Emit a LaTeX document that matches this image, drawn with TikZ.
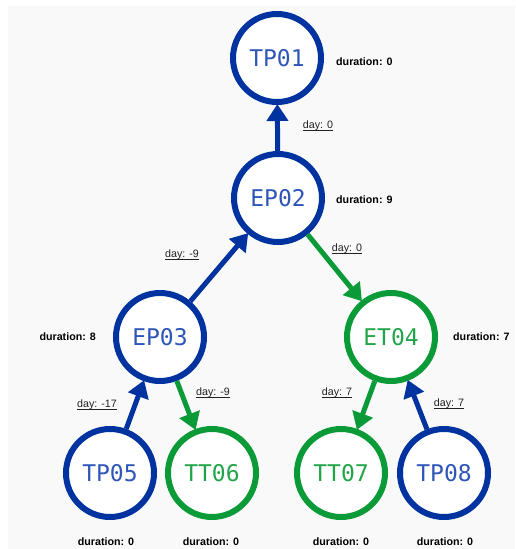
\documentclass[tikz,border=0pt]{standalone}
\usepackage{fontspec}
\usetikzlibrary{arrows.meta}
\newfontfamily\nodefont{DejaVu Sans Mono}
\newfontfamily\labelfont{Liberation Sans}
\definecolor{bgray}{HTML}{F9F9F9}
\definecolor{pblue}{HTML}{0033A0}
\definecolor{pbluetext}{HTML}{2E55B8}
\definecolor{pgreen}{HTML}{0A9A38}
\definecolor{pgreentext}{HTML}{22A548}
\definecolor{labeltext}{HTML}{222222}
% underline drawn close to the baseline
\newcommand\dayul[1]{\setbox0\hbox{#1}\rlap{\rule[-1.4pt]{\wd0}{0.55pt}}\box0}
\tikzset{
  task/.style={circle, fill=white, line width=6pt, minimum size=88pt, inner sep=0pt,
    font=\nodefont\fontsize{23}{23}\selectfont},
  bluetask/.style={task, draw=pblue, text=pbluetext},
  greentask/.style={task, draw=pgreen, text=pgreentext},
  link/.style={line width=5pt, -{Triangle[length=17pt,width=21pt]}, shorten >=-1pt},
  bluelink/.style={link, draw=pblue, fill=pblue},
  greenlink/.style={link, draw=pgreen, fill=pgreen},
  duration/.style={font=\labelfont\bfseries\fontsize{10.7}{12}\selectfont, text=black, inner sep=0pt},
  daylabel/.style={font=\labelfont\fontsize{10.7}{12}\selectfont, text=labeltext, inner sep=0pt}
}
\begin{document}
\begin{tikzpicture}[x=1pt, y=-1pt]
  \useasboundingbox (0,0) rectangle (515,549);
  \fill[white] (0,0) rectangle (515,549);
  \fill[bgray] (8,6) rectangle (515,549);

  % task nodes
  \node[bluetask]  (tp01) at (277,58)  {TP01};
  \node[bluetask]  (ep02) at (278,198) {EP02};
  \node[bluetask]  (ep03) at (160,337) {EP03};
  \node[greentask] (et04) at (391,337) {ET04};
  \node[bluetask]  (tp05) at (110,473) {TP05};
  \node[greentask] (tt06) at (212,473) {TT06};
  \node[greentask] (tt07) at (341,473) {TT07};
  \node[bluetask]  (tp08) at (444,473) {TP08};

  % dependencies
  \draw[bluelink]  (ep02) -- (tp01);
  \draw[bluelink]  (ep03) -- (ep02);
  \draw[greenlink] (ep02) -- (et04);
  \draw[bluelink]  (tp05) -- (ep03);
  \draw[greenlink] (ep03) -- (tt06);
  \draw[greenlink] (et04) -- (tt07);
  \draw[bluelink]  (tp08) -- (et04);

  % offsets in days
  \node[daylabel] (d1) at (318,126) {\dayul{day: 0}};
  \node[daylabel] (d2) at (182,255) {\dayul{day: -9}};
  \node[daylabel] (d3) at (347,249) {\dayul{day: 0}};
  \node[daylabel] (d4) at (97,405)  {\dayul{day: -17}};
  \node[daylabel] (d5) at (213,393) {\dayul{day: -9}};
  \node[daylabel] (d6) at (337,393) {\dayul{day: 7}};
  \node[daylabel] (d7) at (449,404) {\dayul{day: 7}};

  % durations
  \node[duration, anchor=west] (u1) at (336,62)  {duration: 0};
  \node[duration, anchor=west] (u2) at (336,200) {duration: 9};
  \node[duration, anchor=east] (u3) at (96,337)  {duration: 8};
  \node[duration, anchor=west] (u4) at (453,337) {duration: 7};
  \node[duration] (u5) at (106,542) {duration: 0};
  \node[duration] (u6) at (211,542) {duration: 0};
  \node[duration] (u7) at (341,542) {duration: 0};
  \node[duration] (u8) at (445,542) {duration: 0};
\end{tikzpicture}
\end{document}
